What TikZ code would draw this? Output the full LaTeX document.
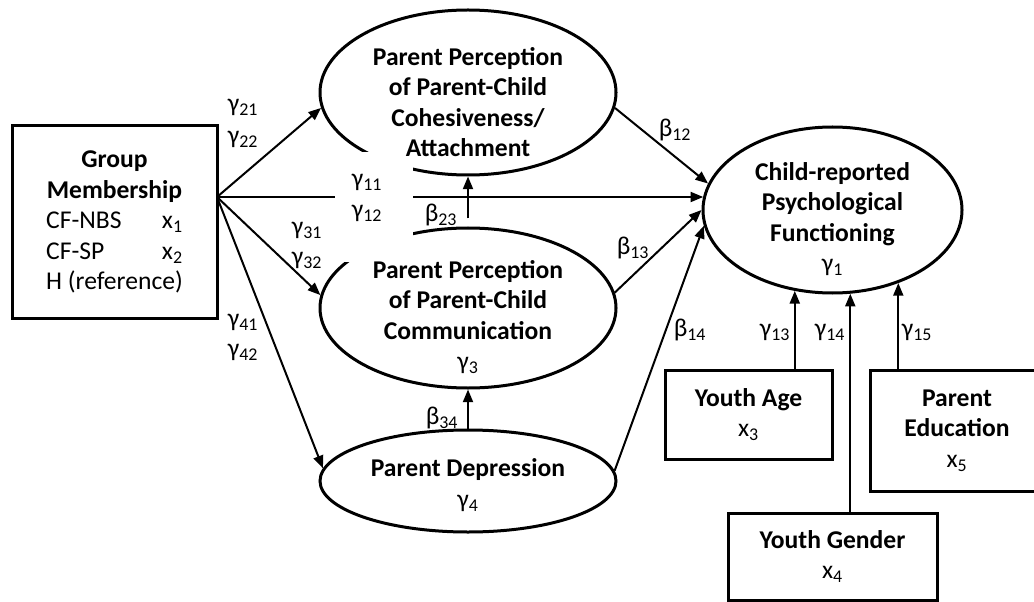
\documentclass[tikz,border=0pt]{standalone}
\usepackage{fontspec}
\setmainfont{Carlito}
\usetikzlibrary{arrows.meta,shapes.geometric}
\newdimen\pxu \pxu=0.75pt
\newlength\hrefw
\begin{document}
\fontsize{19.2pt}{22.9pt}\selectfont
\settowidth{\hrefw}{H (reference)}
\begin{tikzpicture}[x=0.75pt,y=-0.75pt,
  ell/.style={draw, ellipse, line width=2.25pt, inner sep=0pt},
  box/.style={draw, rectangle, line width=2.25pt, align=center, inner sep=0pt},
  txt/.style={align=center, inner sep=0pt},
  lab/.style={inner sep=0pt},
  arr/.style={line width=1.5pt, -{Triangle[length=9.5pt,width=7.5pt]}}]
\useasboundingbox (0,0) rectangle (1034,602);

% ellipses (latent variables)
\node[ell, minimum width=296\pxu, minimum height=165\pxu] (coh) at (468,92.5) {};
\node[ell, minimum width=296\pxu, minimum height=160\pxu] (com) at (468,308) {};
\node[ell, minimum width=296\pxu, minimum height=102\pxu] (dep) at (468,481) {};
\node[ell, minimum width=259\pxu, minimum height=166\pxu] (chi) at (832.5,210) {};

% boxes (observed variables)
\node[box, minimum width=205\pxu, minimum height=192\pxu] (grp) at (114.5,222)
  {\textbf{Group}\\\textbf{Membership}\\
   \makebox[\hrefw][l]{CF-NBS\hfill x\textsubscript{1}}\\
   \makebox[\hrefw][l]{CF-SP\hfill x\textsubscript{2}}\\
   H (reference)};
\node[box, minimum width=167\pxu, minimum height=89\pxu] (age) at (748.5,414.5)
  {\textbf{Youth Age}\\x\textsubscript{3}};
\node[box, minimum width=174\pxu, minimum height=121\pxu] (edu) at (957,430.5)
  {\textbf{Parent}\\\textbf{Education}\\x\textsubscript{5}};
\node[box, minimum width=209\pxu, minimum height=87\pxu] (gen) at (832.5,556.5)
  {\textbf{Youth Gender}\\x\textsubscript{4}};

% connectors
\coordinate (gs) at (217,197);
\draw[arr] (gs) -- (coh.186);
\draw[arr] (gs) -- (chi.174 |- gs);
\draw[arr] (gs) -- (com.175);
\draw[arr] (gs) -- (dep.175);
\draw[arr] (coh.-6) -- (chi.168);
\draw[arr] (com.6) -- (chi.180);
\draw[arr] (dep.4) -- (chi.187);
\draw[arr] ([yshift=6pt]com.north) -- (coh.south);
\draw[arr] (dep.north) -- (com.south);
\draw[arr] (age.north -| chi.245) -- (chi.245);
\draw[arr] (gen.north -| chi.282) -- (chi.282);
\draw[arr] (edu.north -| chi.312) -- (chi.312);

% blank area behind the gamma11/gamma12 labels
\fill[white] (335,152) rectangle (413,262);

% ellipse texts
\node[txt, font=\bfseries] (cohtxt) at (468,102)
  {Parent Perception\\of Parent-Child\\Cohesiveness/\\Attachment};
\node[txt] (comtxt) at (468,317)
  {\textbf{Parent Perception}\\\textbf{of Parent-Child}\\\textbf{Communication}\\γ\textsubscript{3}};
\node[txt] (deptxt) at (468,485)
  {\textbf{Parent Depression}\\γ\textsubscript{4}};
\node[txt] (chitxt) at (832.5,219)
  {\textbf{Child-reported}\\\textbf{Psychological}\\\textbf{Functioning}\\γ\textsubscript{1}};

% path labels
\node[lab] (g21) at (243,107) {γ\textsubscript{21}};
\node[lab] (g22) at (243,139) {γ\textsubscript{22}};
\node[lab] (g31) at (307,230) {γ\textsubscript{31}};
\node[lab] (g32) at (307,260) {γ\textsubscript{32}};
\node[lab] (g41) at (243,322) {γ\textsubscript{41}};
\node[lab] (g42) at (243,352) {γ\textsubscript{42}};
\node[lab] (g11) at (367,182) {γ\textsubscript{11}};
\node[lab] (g12) at (367,213) {γ\textsubscript{12}};
\node[lab] (b23) at (441,215) {β\textsubscript{23}};
\node[lab] (b12) at (675,130) {β\textsubscript{12}};
\node[lab] (b13) at (633,248) {β\textsubscript{13}};
\node[lab] (b14) at (690,330) {β\textsubscript{14}};
\node[lab] (b34) at (442,418) {β\textsubscript{34}};
\node[lab] (g13) at (775,332) {γ\textsubscript{13}};
\node[lab] (g14) at (830,332) {γ\textsubscript{14}};
\node[lab] (g15) at (917,332) {γ\textsubscript{15}};
\end{tikzpicture}
\end{document}
